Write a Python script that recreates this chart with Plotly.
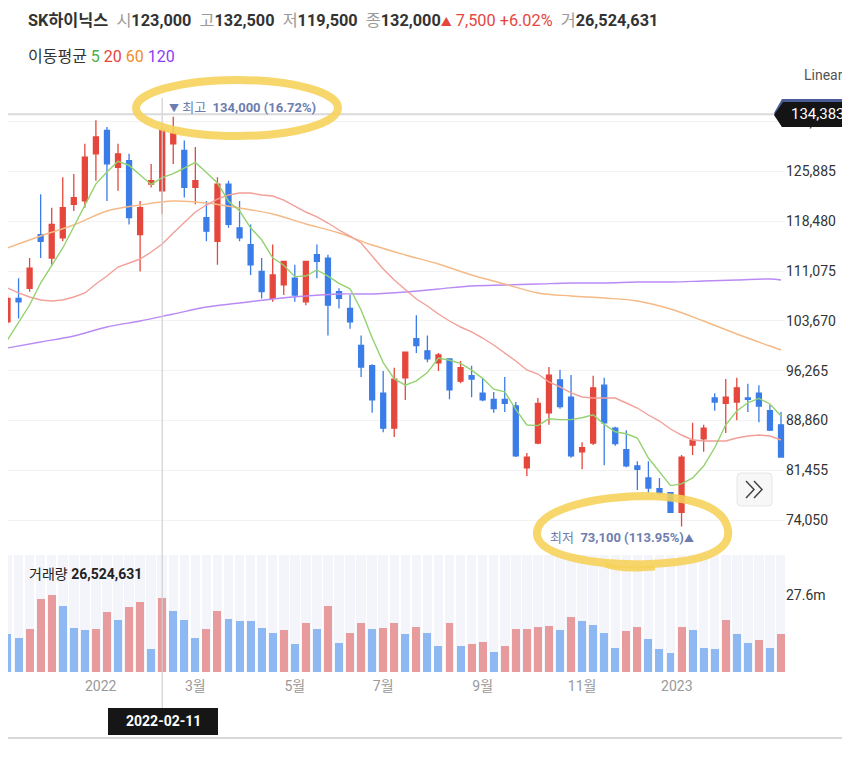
import plotly.graph_objects as go
import pandas as pd

# ---------------- data (weekly) ----------------
DATES = ["2021-11-05", "2021-11-12", "2021-11-19", "2021-11-26", "2021-12-03", "2021-12-10", "2021-12-17",
         "2021-12-24", "2021-12-31", "2022-01-07", "2022-01-14", "2022-01-21", "2022-01-28", "2022-02-04",
         "2022-02-11", "2022-02-18", "2022-02-25", "2022-03-04", "2022-03-11", "2022-03-18", "2022-03-25",
         "2022-04-01", "2022-04-08", "2022-04-15", "2022-04-22", "2022-04-29", "2022-05-06", "2022-05-13",
         "2022-05-20", "2022-05-27", "2022-06-03", "2022-06-10", "2022-06-17", "2022-06-24", "2022-07-01",
         "2022-07-08", "2022-07-15", "2022-07-22", "2022-07-29", "2022-08-05", "2022-08-12", "2022-08-19",
         "2022-08-26", "2022-09-02", "2022-09-09", "2022-09-16", "2022-09-23", "2022-09-30", "2022-10-07",
         "2022-10-14", "2022-10-21", "2022-10-28", "2022-11-04", "2022-11-11", "2022-11-18", "2022-11-25",
         "2022-12-02", "2022-12-09", "2022-12-16", "2022-12-23", "2022-12-30", "2023-01-06", "2023-01-13",
         "2023-01-20", "2023-01-27", "2023-02-03", "2023-02-10", "2023-02-17", "2023-02-24", "2023-03-03",
         "2023-03-10"]

OPEN = [103500, 107000, 108500, 116500, 113000, 116000, 121000, 121500, 128500, 132000,
        126500, 127500, 116500, 124000, 123000, 130000, 129000, 123500, 119000, 115500,
        124000, 117500, 115000, 111000, 107000, 109000, 110000, 106500, 113500, 113000,
        108000, 105500, 100000, 97000, 92900, 87700, 95200, 101000, 99200, 97400,
        98000, 94700, 95500, 92900, 92000, 92000, 91000, 81800, 85500, 90000,
        94900, 92300, 84200, 85500, 94100, 87700, 84500, 82100, 80300, 78700,
        78100, 75200, 85200, 86100, 92200, 91400, 91600, 92200, 92900, 90300, 88200]
HIGH = [107500, 110000, 113000, 122500, 120500, 125000, 125500, 130000, 133500, 132500,
        130000, 128500, 121500, 127000, 132500, 134000, 130500, 129500, 121500, 125000,
        124500, 121500, 118000, 113000, 115000, 112500, 112000, 112500, 115000, 113500,
        108500, 107500, 101500, 97200, 96200, 96700, 99000, 104500, 101500, 98900,
        98000, 97700, 97000, 95000, 93100, 95300, 91600, 84000, 92200, 96800,
        96400, 95600, 85600, 95500, 95200, 87900, 87400, 82800, 82800, 80300,
        78200, 83700, 88500, 88200, 92900, 95000, 95200, 94300, 94100, 91200, 90100]
LOW = [103000, 104000, 108000, 113000, 112000, 115500, 120000, 120500, 124500, 121500,
       123000, 118000, 111000, 123500, 119500, 127000, 122000, 121000, 115500, 112000,
       117500, 115500, 110500, 107000, 106500, 107500, 106500, 106000, 110000, 101500,
       105500, 102500, 95300, 90000, 87100, 86400, 91900, 98900, 97500, 96200,
       92000, 94400, 92300, 91700, 90000, 90100, 83400, 80600, 85300, 88200,
       90600, 83300, 81600, 85200, 82200, 85100, 81900, 78500, 78100, 77800,
       75100, 73100, 83700, 84200, 90300, 87000, 88900, 90100, 88600, 87300, 83300]
CLOSE = [107000, 106500, 111500, 115500, 118000, 120500, 122000, 128000, 131000, 127000,
         128500, 119000, 120500, 124500, 132000, 131500, 123500, 124500, 117000, 124000,
         118000, 116000, 112000, 108000, 110500, 112500, 107500, 112500, 112500, 106000,
         107000, 103500, 96800, 91900, 87700, 95000, 99000, 100000, 98000, 98600,
         93400, 96700, 95000, 91900, 90600, 91400, 83600, 83400, 91400, 95600,
         90900, 83600, 84800, 93700, 88500, 85400, 82100, 81600, 78800, 78100,
         75200, 83400, 85900, 87700, 91600, 92300, 93700, 92000, 91000, 87400, 83400]
VOLUME = [13560000, 12360000, 15360000, 26160000, 27600000, 23760000, 15960000, 15000000, 15360000, 21600000,
          18720000, 23400000, 25200000, 8160000, 26524631, 21960000, 18720000, 12240000, 15360000, 21960000,
          19200000, 18360000, 18200000, 15960000, 13920000, 15120000, 9960000, 17760000, 15360000, 23760000,
          10320000, 14160000, 17760000, 15360000, 15960000, 17760000, 13560000, 16320000, 13920000, 9360000,
          17760000, 9360000, 9960000, 10800000, 7200000, 9360000, 15360000, 15500000, 16320000, 16450000,
          15120000, 19920000, 18240000, 16800000, 13920000, 8640000, 14640000, 16320000, 11760000, 8160000,
          6720000, 16320000, 15120000, 8520000, 8160000, 18720000, 13560000, 10320000, 11400000, 8520000, 13560000]

MA5 = [100820, 103490, 106020, 109290, 111820, 114500, 117650, 120920, 124040, 125800,
       127400, 126780, 125290, 123950, 124970, 125560, 126390, 127230, 125740, 124160,
       121460, 120030, 117500, 115720, 113040, 111940, 110240, 110330, 111230, 110300,
       109230, 108430, 105280, 101140, 97460, 95020, 94100, 94750, 95970, 98140,
       97810, 97340, 96330, 95110, 93500, 93110, 90500, 88180, 88090, 89100,
       88980, 88980, 89250, 89690, 88270, 87170, 86870, 86240, 83270, 81190,
       79170, 79430, 80300, 82080, 84790, 88210, 90260, 91480, 92130, 91300, 89520]
MA20 = [108550, 107810, 107210, 106760, 106620, 106760, 107210, 107810, 109140, 110330,
        111670, 112270, 112860, 113900, 115090, 116730, 118360, 119850, 120890, 121780,
        122380, 122680, 122680, 122380, 122230, 121630, 120740, 119850, 119110, 118210,
        117170, 116280, 115240, 113310, 111370, 109740, 108250, 106910, 105870, 104680,
        103640, 102750, 102010, 101110, 100070, 98880, 97690, 96360, 95760, 94570,
        93830, 92940, 92340, 92190, 92190, 92190, 91450, 90700, 89660, 88770,
        87580, 86690, 85950, 85800, 85800, 85800, 86240, 86540, 86690, 86540, 85950]
MA_IDX = [1, 4, 7, 10, 13, 16, 19, 22, 25, 28, 31, 34, 37, 40, 43, 46, 49, 52, 55, 58, 61, 64, 67, 70, 71]
MA60 = [114500, 116280, 117920, 120000, 120890, 121490, 121190, 120440, 119550, 118070, 116730, 114940, 113460,
        112120, 110480, 109140, 107810, 107360, 107060, 106620, 105430, 103640, 101710, 99920, 99330]
MA120 = [99630, 100520, 101410, 102750, 103640, 104680, 105720, 106320, 106910, 107360, 107660, 107660, 107950,
         108400, 108850, 109000, 109140, 109290, 109290, 109440, 109440, 109590, 109740, 109890, 109740]

PRICE_TICKS = [74050, 81455, 88860, 96265, 103670, 111075, 118480, 125885, 133290]
VOL_TICKS = [27600000]
VOL_TICK_TEXT = ["27.6m"]
X_TICKS = ["2022-01-03", "2022-03-04", "2022-05-06", "2022-07-01", "2022-09-02", "2022-11-04", "2023-01-03"]
X_TICK_TEXT = ["2022", "3월", "5월", "7월", "9월", "11월", "2023"]

SEL_DATE = "2022-02-11"
CROSS_PRICE = 134383

# ---------------- styling ----------------
RED = "#E5473D"
BLUE = "#3B7DE8"
VRED = "#E89B9C"
VBLUE = "#8DB8F1"
FONT = "Roboto, 'Noto Sans CJK KR', 'Noto Sans', sans-serif"

# page offset (default body margin) -> work in absolute page pixels
OX, OY = 8, 8
W, H = 850 - OX, 768 - 2 * OY
L_ABS, R_ABS, T_ABS, B_ABS = 8, 785, 85, 672
L, R, T, B = L_ABS - OX, R_ABS - OX, T_ABS - OY, B_ABS - OY
PW, PH = R - L, B - T
STEP = 11.05          # px per week
C0 = 7.5              # absolute px of first candle centre


def fx(px):
    return (px - L_ABS) / PW


def fy(py):
    return (B_ABS - py) / PH


PRICE_RANGE = [69589, 138735]
VOL_MAX = 42.1e6
week_ms = 7 * 24 * 3600 * 1000
t0 = pd.Timestamp(DATES[0])
x_left = (t0 + pd.Timedelta(days=7 * (L_ABS - C0) / STEP)).strftime("%Y-%m-%d %H:%M:%S")
x_right = (t0 + pd.Timedelta(days=7 * (R_ABS - C0) / STEP)).strftime("%Y-%m-%d %H:%M:%S")

vol_colors = [VBLUE] + [VRED if VOLUME[i] > VOLUME[i - 1] else VBLUE for i in range(1, len(VOLUME))]

fig = go.Figure()

# volume background columns
fig.add_trace(go.Bar(x=DATES, y=[VOL_MAX] * len(DATES), width=0.86 * week_ms,
                     marker=dict(color="#F3F5FB", line=dict(width=0)),
                     xaxis="x", yaxis="y2", hoverinfo="skip", showlegend=False))
fig.add_trace(go.Bar(x=DATES, y=VOLUME, width=0.72 * week_ms,
                     marker=dict(color=vol_colors, line=dict(width=0)),
                     xaxis="x", yaxis="y2", showlegend=False))

fig.add_trace(go.Candlestick(x=DATES, open=OPEN, high=HIGH, low=LOW, close=CLOSE,
                             increasing=dict(line=dict(color=RED, width=1.3), fillcolor=RED),
                             decreasing=dict(line=dict(color=BLUE, width=1.3), fillcolor=BLUE),
                             whiskerwidth=0, xaxis="x", yaxis="y", showlegend=False))

ma_x = [DATES[i - 1] for i in MA_IDX]
fig.add_trace(go.Scatter(x=ma_x, y=MA120, mode="lines", line=dict(color="#B98AF6", width=1.4, shape="spline"),
                         xaxis="x", yaxis="y", showlegend=False))
fig.add_trace(go.Scatter(x=ma_x, y=MA60, mode="lines", line=dict(color="#F5B985", width=1.4, shape="spline"),
                         xaxis="x", yaxis="y", showlegend=False))
fig.add_trace(go.Scatter(x=DATES, y=MA20, mode="lines", line=dict(color="#F29F98", width=1.4),
                         xaxis="x", yaxis="y", showlegend=False))
fig.add_trace(go.Scatter(x=DATES, y=MA5, mode="lines", line=dict(color="#93D26F", width=1.4),
                         xaxis="x", yaxis="y", showlegend=False))

sel_idx = DATES.index(SEL_DATE)
sel_px = C0 + sel_idx * STEP

shapes = []
# crosshair
shapes.append(dict(type="line", xref="paper", yref="paper", x0=fx(sel_px), x1=fx(sel_px),
                   y0=fy(708), y1=fy(98), line=dict(color="#CFCFCF", width=1.2), layer="above"))
shapes.append(dict(type="line", xref="paper", yref="y", x0=0, x1=fx(776), y0=CROSS_PRICE, y1=CROSS_PRICE,
                   line=dict(color="#DADADA", width=2), layer="above"))
# price tag
shapes.append(dict(type="path", xref="paper", yref="paper",
                   path=f"M {fx(774)},{fy(113)} L {fx(782)},{fy(99)} L {fx(850)},{fy(99)} L {fx(850)},{fy(127)} L {fx(782)},{fy(127)} Z",
                   fillcolor="#4B5C96", line=dict(width=0), layer="above"))
shapes.append(dict(type="path", xref="paper", yref="paper",
                   path=f"M {fx(774)},{fy(115)} L {fx(783)},{fy(102)} L {fx(850)},{fy(102)} L {fx(850)},{fy(127)} L {fx(782)},{fy(127)} Z",
                   fillcolor="#141414", line=dict(width=0), layer="above"))
# date tag
shapes.append(dict(type="rect", xref="paper", yref="paper", x0=fx(108), x1=fx(218), y0=fy(735), y1=fy(708),
                   fillcolor="#161616", line=dict(width=0), layer="above"))
# bottom line
shapes.append(dict(type="line", xref="paper", yref="paper", x0=fx(8), x1=fx(850), y0=fy(738), y1=fy(738),
                   line=dict(color="#CCCCCC", width=1.5), layer="above"))
# scroll button
bx0, bx1, by0, by1, rr = 737, 772, 473, 506, 4
shapes.append(dict(type="path", xref="paper", yref="paper",
                   path=(f"M {fx(bx0+rr)},{fy(by0)} L {fx(bx1-rr)},{fy(by0)} Q {fx(bx1)},{fy(by0)} {fx(bx1)},{fy(by0+rr)} "
                         f"L {fx(bx1)},{fy(by1-rr)} Q {fx(bx1)},{fy(by1)} {fx(bx1-rr)},{fy(by1)} "
                         f"L {fx(bx0+rr)},{fy(by1)} Q {fx(bx0)},{fy(by1)} {fx(bx0)},{fy(by1-rr)} "
                         f"L {fx(bx0)},{fy(by0+rr)} Q {fx(bx0)},{fy(by0)} {fx(bx0+rr)},{fy(by0)} Z"),
                   fillcolor="#F7F7F7", line=dict(color="#E6E6E6", width=1), layer="above"))
for cx in (746, 754):
    shapes.append(dict(type="path", xref="paper", yref="paper",
                       path=f"M {fx(cx)},{fy(481)} L {fx(cx+8)},{fy(489.5)} L {fx(cx)},{fy(498)}",
                       line=dict(color="#444444", width=1.5), layer="above"))
# yellow hand-drawn marks
YEL = "rgba(246,210,86,0.88)"
shapes.append(dict(type="circle", xref="paper", yref="paper", x0=fx(136), x1=fx(338), y0=fy(136), y1=fy(80),
                   line=dict(color=YEL, width=8), layer="above"))
shapes.append(dict(type="path", xref="paper", yref="paper",
                   path=(f"M {fx(645)},{fy(496)} C {fx(585)},{fy(497)} {fx(535)},{fy(512)} {fx(537)},{fy(535)} "
                         f"C {fx(540)},{fy(557)} {fx(600)},{fy(566)} {fx(650)},{fy(564)} "
                         f"C {fx(700)},{fy(562)} {fx(731)},{fy(552)} {fx(728)},{fy(530)} "
                         f"C {fx(725)},{fy(510)} {fx(700)},{fy(497)} {fx(645)},{fy(496)}"),
                   line=dict(color=YEL, width=8), layer="above"))
shapes.append(dict(type="path", xref="paper", yref="paper",
                   path=f"M {fx(605)},{fy(565)} C {fx(622)},{fy(571)} {fx(640)},{fy(569)} {fx(655)},{fy(568)}",
                   line=dict(color=YEL, width=5), layer="above"))

G = "<span style='color:#9A9A9A'>"
header = ("<b>SK하이닉스</b>  " + G + "시</span><b>123,000</b>  " + G + "고</span><b>132,500</b>  "
          + G + "저</span><b>119,500</b>  " + G + "종</span><b>132,000</b>"
          + "<span style='color:#E5473D;font-size:11px'>▲</span> <span style='color:#E5473D'>7,500 +6.02%</span>  "
          + G + "거</span><b>26,524,631</b>")

ann = []


def A(text, px, py, size=14, color="#333333", xanchor="left", **kw):
    ann.append(dict(text=text, xref="paper", yref="paper", x=fx(px), y=fy(py), xanchor=xanchor,
                    yanchor="middle", showarrow=False, font=dict(size=size, color=color, family=FONT), **kw))


A(header, 26, 21, size=16.3, color="#333333")
A("이동평균 <span style='color:#4DAF4A'>5</span> <span style='color:#E8443A'>20</span> "
  "<span style='color:#F08C2A'>60</span> <span style='color:#8B3DF5'>120</span>", 26, 57, size=16)
A("Linear", 845, 75, size=14, color="#555555", xanchor="right")
A("<span style='font-size:10px'>▼</span> 최고  <b>134,000 (16.72%)</b>", 167, 107, size=13, color="#6E7DB0")
A("최저  <b>73,100 (113.95%)</b><span style='font-size:10px'>▲</span>", 548, 537, size=13, color="#6E7DB0")
A("134,383", 789, 114.5, size=15, color="#FFFFFF")
A("<b>2022-02-11</b>", 163, 721.5, size=14, color="#FFFFFF", xanchor="center")
A("거래량 <b>26,524,631</b>", 27, 574, size=14, color="#222222")

fig.update_layout(
    width=W, height=H,
    margin=dict(l=L, r=W - R, t=T, b=H - B, pad=0),
    paper_bgcolor="white", plot_bgcolor="white",
    font=dict(family=FONT, size=14, color="#333333"),
    showlegend=False, barmode="overlay", bargap=0, boxgap=0.36,
    xaxis=dict(type="date", range=[x_left, x_right], domain=[0, 1], anchor="y2",
               tickvals=X_TICKS, ticktext=X_TICK_TEXT, tickfont=dict(size=14, color="#999999"),
               showgrid=False, showline=False, zeroline=False, ticks="", ticklabelstandoff=4,
               rangeslider=dict(visible=False), fixedrange=True),
    yaxis=dict(domain=[fy(550), 1], range=PRICE_RANGE, side="right", anchor="x",
               tickvals=PRICE_TICKS, ticktext=[f"{v:,}" for v in PRICE_TICKS],
               tickfont=dict(size=14, color="#333333"), showgrid=True, gridcolor="#F2F2F2", gridwidth=1,
               showline=False, zeroline=False, ticks=""),
    yaxis2=dict(domain=[0, fy(555)], range=[0, VOL_MAX], side="right", anchor="x",
                tickvals=VOL_TICKS, ticktext=VOL_TICK_TEXT, tickfont=dict(size=14, color="#333333"),
                showgrid=False, showline=False, zeroline=False, ticks=""),
    shapes=shapes, annotations=ann,
)

fig.write_html("out.html")
